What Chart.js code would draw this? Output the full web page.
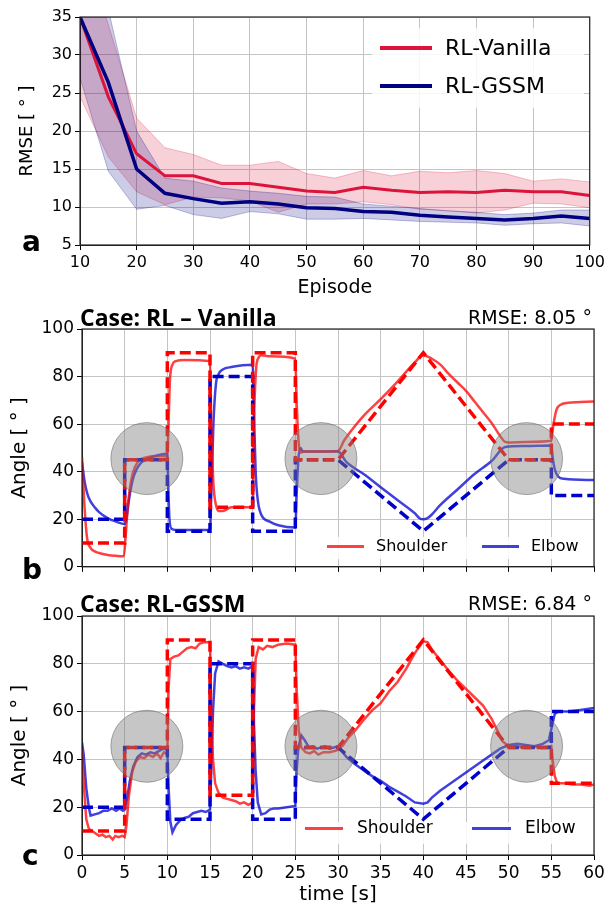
<!DOCTYPE html>
<html>
<head>
<meta charset="utf-8">
<script src="https://cdn.jsdelivr.net/npm/chart.js@4.4.1/dist/chart.umd.min.js"></script>
<style>
  body { margin: 0; background: #fff; }
  #wrap { position: relative; width: 608px; height: 909px; overflow: hidden; background: #fff; font-family: "DejaVu Sans", sans-serif; }
  canvas { position: absolute; left: 0; }
  .t { position: absolute; white-space: nowrap; line-height: 1; color: #000; }
  .letter { font-weight: bold; font-size: 28px; left: 22px; }
  .case { font-family: "Liberation Sans Narrow", "Open Sans", sans-serif; font-weight: bold; font-size: 23px; left: 80px; }
  .rmse { font-size: 19px; right: 16px; }
  .box { position: absolute; background: rgba(255,255,255,0.85); }
  .sw { position: absolute; height: 3px; }
</style>
</head>
<body>
<div id="wrap">
  <canvas id="chartA" width="608" height="300" style="top:0"></canvas>
  <canvas id="chartB" width="608" height="290" style="top:290px"></canvas>
  <canvas id="chartC" width="608" height="329" style="top:580px"></canvas>

  <!-- legend a -->
  <div class="box" style="left:372px;top:28px;width:212px;height:80px"></div>
  <div class="sw" style="left:380px;top:46px;width:52px;height:4px;background:#dc143c"></div>
  <div class="t" style="left:445px;top:37px;font-size:22px">RL-Vanilla</div>
  <div class="sw" style="left:380px;top:84px;width:52px;height:4px;background:#000080"></div>
  <div class="t" style="left:445px;top:75px;font-size:22px">RL-GSSM</div>
  <div class="t letter" style="top:228px">a</div>

  <!-- panel b texts -->
  <div class="t case" style="top:306px">Case: RL – Vanilla</div>
  <div class="t rmse" style="top:308px">RMSE: 8.05 °</div>
  <div class="box" style="left:318px;top:537px;width:272px;height:22px"></div>
  <div class="sw" style="left:327px;top:545px;width:37px;background:rgba(255,0,0,0.75)"></div>
  <div class="t" style="left:376px;top:538px;font-size:16px">Shoulder</div>
  <div class="sw" style="left:482px;top:545px;width:37px;background:rgba(0,0,210,0.75)"></div>
  <div class="t" style="left:531px;top:538px;font-size:16px">Elbow</div>
  <div class="t letter" style="top:556px">b</div>

  <!-- panel c texts -->
  <div class="t case" style="top:592px">Case: RL-GSSM</div>
  <div class="t rmse" style="top:594px">RMSE: 6.84 °</div>
  <div class="box" style="left:298px;top:822px;width:292px;height:22px"></div>
  <div class="sw" style="left:305px;top:827px;width:38px;background:rgba(255,0,0,0.75)"></div>
  <div class="t" style="left:357px;top:819px;font-size:17px">Shoulder</div>
  <div class="sw" style="left:472px;top:827px;width:39px;background:rgba(0,0,210,0.75)"></div>
  <div class="t" style="left:525px;top:819px;font-size:17px">Elbow</div>
  <div class="t letter" style="top:842px">c</div>
</div>

<script>
// ---------- panel a : RMSE over episodes ----------
const episodes   = [10, 15, 20, 25, 30, 35, 40, 45, 50, 55, 60, 65, 70, 75, 80, 85, 90, 95, 100];
const vanMean    = [35, 24.5, 17, 14.1, 14.1, 13.1, 13.1, 12.6, 12.1, 11.9, 12.6, 12.2, 11.9, 12.0, 11.9, 12.2, 12.0, 12.0, 11.5];
const vanHigh    = [45, 34, 21.7, 17.8, 16.9, 15.5, 15.5, 16.0, 14.4, 13.8, 14.8, 14.1, 14.7, 14.5, 14.8, 14.4, 13.4, 13.7, 13.3];
const vanLow     = [24.5, 16.6, 12.0, 10.3, 11.3, 11.2, 10.8, 9.3, 10.4, 10.4, 10.7, 10.3, 9.7, 9.5, 9.2, 9.6, 10.5, 10.4, 9.9];
const gssmMean   = [35, 26.4, 15, 11.8, 11.1, 10.5, 10.7, 10.4, 9.9, 9.8, 9.4, 9.3, 8.9, 8.7, 8.5, 8.3, 8.5, 8.8, 8.5];
const gssmHigh   = [45, 36, 20, 13.8, 13.4, 12.5, 12.1, 11.8, 11.4, 11.3, 10.4, 10.1, 9.8, 9.5, 9.3, 9.0, 9.2, 9.6, 9.6];
const gssmLow    = [27, 14.7, 9.7, 10.2, 9.0, 8.5, 9.4, 9.1, 8.4, 8.4, 8.5, 8.3, 8.1, 8.0, 7.9, 7.6, 7.8, 7.9, 7.5];

// ---------- panels b/c : reference trajectories ----------
const refT              = [0, 5, 5, 10, 10, 15, 15, 20, 20, 25, 25, 30, 40, 50, 55, 55, 60];
const vanRefShoulder    = [10, 10, 45, 45, 90, 90, 25, 25, 90, 90, 45, 45, 90, 45, 45, 60, 60];
const vanRefElbow       = [20, 20, 45, 45, 15, 15, 80, 80, 15, 15, 45, 45, 15, 45, 45, 30, 30];
const gssmRefShoulder   = [10, 10, 45, 45, 90, 90, 25, 25, 90, 90, 45, 45, 90, 45, 45, 30, 30];
const gssmRefElbow      = [20, 20, 45, 45, 15, 15, 80, 80, 15, 15, 45, 45, 15, 45, 45, 60, 60];

// ---------- panel b : RL-Vanilla measured ----------
const vanShoulderT = [0, 0.3, 0.6, 1, 1.5, 2, 3, 4, 4.9, 5.1, 5.4, 5.8, 6.2, 6.8, 7.5, 8.5, 10, 10.1, 10.3, 10.6, 11, 12, 15,
  15.15, 15.4, 15.7, 16, 16.5, 17.5, 20, 20.15, 20.4, 20.7, 21, 22, 25, 25.15, 25.4, 25.7, 26, 28, 30,
  30.7, 31.5, 33, 35, 37, 39, 40, 41, 42, 43, 44, 45, 46, 47, 48, 49, 49.6, 50, 52, 55, 55.1, 55.3, 55.6, 56, 57, 60];
const vanShoulderY = [46, 25, 12, 8, 6.5, 5.8, 5, 4.6, 4.4, 12, 27, 37, 42, 45, 46, 46.5, 46.5, 55, 78, 85, 86.5, 87, 86.5,
  60, 35, 26, 23.5, 23.5, 25, 25, 60, 83, 88, 89, 88.5, 87.5, 70, 52, 48, 48.5, 48.5, 48.7,
  53, 57, 63.5, 70.5, 78, 86, 89, 87.5, 85, 81, 77.5, 74, 69.5, 65, 60.5, 55, 52.5, 52.3, 52.5, 53, 56, 61, 66, 68, 69, 69.5];
const vanElbowT = [0, 0.3, 0.6, 1, 1.5, 2, 3, 4, 5, 5.2, 5.5, 5.9, 6.4, 7, 8, 9, 10, 10.1, 10.25, 10.5, 11, 15,
  15.15, 15.4, 15.7, 16, 16.5, 17.5, 20, 20.15, 20.35, 20.6, 21, 22, 23, 25, 25.15, 25.35, 25.6, 25.9, 28, 30,
  31, 33, 35, 37, 39, 39.6, 40, 40.5, 41, 42, 44, 46, 48, 49.6, 52, 55, 55.15, 55.4, 55.8, 56.5, 60];
const vanElbowY = [44, 36, 31, 27.5, 25, 23, 20.5, 19, 18, 20, 28, 36, 41, 44, 46, 47, 47.5, 35, 20, 16, 15.5, 15.5,
  30, 60, 77, 81, 83, 84, 85, 65, 40, 28, 22, 19, 17.5, 16.5, 30, 45, 50, 48.5, 48.5, 48.5,
  44, 39, 33.5, 28, 22.5, 20.3, 20, 20.5, 22, 26, 32.5, 39, 44.5, 50.4, 50.8, 51, 46, 41, 38, 37, 36.5];

// ---------- panel c : RL-GSSM measured ----------
const gssmShoulderT = [0, 0.2, 0.5, 0.8, 1.2, 1.6, 2, 2.4, 2.8, 3.2, 3.6, 3.9, 4.3, 4.7, 5, 5.2, 5.5, 5.9, 6.3, 6.8, 7.3, 7.8, 8.3, 8.8, 9.2, 9.6, 10,
  10.15, 10.35, 10.8, 11.3, 11.8, 12.3, 12.8, 13.3, 13.8, 14.3, 15, 15.15, 15.35, 15.6, 16, 16.5, 17, 17.5, 18, 18.5, 19, 19.5, 20,
  20.15, 20.35, 20.7, 21.2, 21.7, 22.3, 23, 24, 25, 25.15, 25.4, 25.7, 26.2, 26.7, 27.2, 27.7, 28.3, 29, 29.6, 30,
  30.6, 31.2, 32, 33, 34, 35, 36, 37, 38, 39, 40, 40.5, 41, 42, 43, 44, 45, 46, 47, 48, 48.7, 49.3, 50,
  51, 52, 53, 54, 55, 55.15, 55.4, 55.7, 56.5, 57.5, 58.5, 59.5, 60];
const gssmShoulderY = [44, 30, 15, 11, 10, 9, 8, 8.5, 7.5, 8, 6.5, 8, 7.5, 8, 7.5, 12, 25, 35, 39, 41, 40.5, 42, 41, 42.5, 40.5, 43, 42,
  70, 82, 83, 83.5, 85, 86.5, 87, 86.5, 88.5, 89, 89, 60, 40, 30, 26, 24, 23.5, 23, 22.5, 21.5, 22, 21, 22,
  60, 82, 87, 86, 87.5, 87, 88, 88.5, 88, 70, 52, 45, 43, 42.5, 43.5, 42, 43, 43, 43.5, 44,
  46, 49, 52, 56.5, 60.5, 63.5, 68.5, 72.5, 78, 84.5, 89.5, 89, 86, 81.5, 77, 73, 69.5, 66, 62.5, 57, 52, 47.5, 45.5,
  45.5, 45, 45.5, 45, 45.5, 40, 33, 30, 30, 29.5, 29.5, 29, 29.5];
const gssmElbowT = [0, 0.2, 0.5, 0.8, 1, 1.5, 2, 2.5, 3, 3.5, 4, 4.4, 4.8, 5, 5.3, 5.6, 6, 6.5, 7, 7.5, 8, 8.5, 9, 9.5, 10,
  10.15, 10.35, 10.6, 11, 11.5, 12, 12.5, 13, 13.5, 14, 14.5, 15, 15.15, 15.35, 15.6, 16, 16.5, 17, 17.5, 18, 18.5, 19, 19.5, 20,
  20.15, 20.35, 20.6, 21, 21.5, 22, 22.5, 23, 24, 25, 25.15, 25.35, 25.7, 26.1, 26.6, 27, 27.5, 28, 28.5, 29, 29.5, 30,
  31, 32, 33, 34, 35, 36, 37, 38, 39, 40, 40.5, 41, 42, 43, 44, 45, 46, 47, 48, 49, 50,
  51, 52, 53, 54, 54.7, 55.15, 55.4, 55.8, 57, 58, 59, 60];
const gssmElbowY = [47, 42, 28, 20, 16.5, 17, 17.5, 18.5, 18.5, 19.5, 18.5, 19.5, 18.5, 19, 24, 31, 37, 41, 42.5, 42, 43, 42.5, 43.5, 44.5, 44,
  28, 14, 9.5, 12.5, 14.5, 15.5, 16, 17.5, 18, 18.5, 18, 19, 35, 60, 76, 81, 80, 79, 78.5, 79, 78, 78.5, 78, 79,
  55, 35, 22, 17, 17.5, 19, 19.5, 19.5, 20, 20.5, 35, 45, 50, 48, 45, 45.5, 44.5, 45, 45.5, 44.5, 45, 45.5,
  41, 38, 35.5, 33, 31, 28.5, 26.5, 24.5, 22, 21.5, 22, 24, 27, 29.5, 32, 34.5, 37, 39.5, 42, 44.5, 46,
  46.5, 46, 45.5, 46.5, 48, 55, 59, 60, 60, 60.5, 61, 61.5];

// grey highlight circles (time, angle)
const circleT = [7.6, 28, 52.1];
const circleY = [45.5, 45.5, 45.5];

const pts = (xs, ys) => xs.map((x, i) => ({ x: x, y: ys[i] }));

const tickFont = { family: 'DejaVu Sans', size: 17 };
const gridCfg = { color: '#c4c4c4', tickColor: '#000', tickLength: 5, lineWidth: 1 };

// full black frame around the plot area
const framePlugin = {
  id: 'frame',
  afterDatasetsDraw(chart) {
    const { ctx, chartArea: a } = chart;
    ctx.save();
    ctx.strokeStyle = '#222';
    ctx.lineWidth = 1.2;
    ctx.strokeRect(a.left, a.top, a.right - a.left, a.bottom - a.top);
    ctx.restore();
  }
};

// panel a
new Chart(document.getElementById('chartA'), {
  type: 'line',
  data: {
    datasets: [
      { data: pts(episodes, vanHigh), fill: '+1', backgroundColor: 'rgba(220,20,60,0.2)', borderColor: 'rgba(220,20,60,0.25)', borderWidth: 1, pointRadius: 0, order: 3 },
      { data: pts(episodes, vanLow), fill: false, borderColor: 'rgba(220,20,60,0.25)', borderWidth: 1, pointRadius: 0, order: 3 },
      { data: pts(episodes, gssmHigh), fill: '+1', backgroundColor: 'rgba(0,0,128,0.2)', borderColor: 'rgba(0,0,128,0.25)', borderWidth: 1, pointRadius: 0, order: 2 },
      { data: pts(episodes, gssmLow), fill: false, borderColor: 'rgba(0,0,128,0.25)', borderWidth: 1, pointRadius: 0, order: 2 },
      { label: 'RL-Vanilla', data: pts(episodes, vanMean), borderColor: '#dc143c', borderWidth: 3, pointRadius: 0, fill: false, order: 1 },
      { label: 'RL-GSSM', data: pts(episodes, gssmMean), borderColor: '#000080', borderWidth: 3.5, pointRadius: 0, fill: false, order: 0 }
    ]
  },
  options: {
    responsive: false,
    animation: false,
    layout: { autoPadding: false, padding: { top: 17, right: 18, left: 0, bottom: 0 } },
    plugins: { legend: { display: false }, tooltip: { enabled: false } },
    scales: {
      x: {
        type: 'linear', min: 10, max: 100,
        ticks: { stepSize: 10, font: { family: 'DejaVu Sans', size: 16 }, color: '#000', padding: 3, maxRotation: 0 },
        grid: gridCfg,
        border: { color: '#222' },
        title: { display: true, text: 'Episode', font: { family: 'DejaVu Sans', size: 19 }, color: '#000', padding: { top: 0, bottom: 1 } },
        afterFit: s => { s.height = 55; }
      },
      y: {
        min: 5, max: 35,
        ticks: { stepSize: 5, font: { family: 'DejaVu Sans', size: 16 }, color: '#000', padding: 3 },
        grid: gridCfg,
        border: { color: '#222' },
        title: { display: true, text: 'RMSE [ ° ]', font: { family: 'DejaVu Sans', size: 18 }, color: '#000', padding: { top: 17, bottom: 0 } },
        afterFit: s => { s.width = 80; }
      }
    }
  },
  plugins: [framePlugin]
});

function angleChart(id, refS, refE, sT, sY, eT, eY, padTop, xHeight, showLabels) {
  const smooth = id === 'chartB' ? 'monotone' : 'default';
  return new Chart(document.getElementById(id), {
    type: 'line',
    data: {
      datasets: [
        { data: pts(circleT, circleY), showLine: false, pointRadius: 36, pointHoverRadius: 36,
          pointBackgroundColor: 'rgba(128,128,128,0.45)', pointBorderColor: 'rgba(100,100,100,0.55)', pointBorderWidth: 1, order: 0 },
        { data: pts(refT, refS), borderColor: '#ff0000', borderWidth: 3.5, borderDash: [11, 5], pointRadius: 0, fill: false, order: 1 },
        { data: pts(refT, refE), borderColor: '#0000cc', borderWidth: 3.5, borderDash: [11, 5], pointRadius: 0, fill: false, order: 2 },
        { label: 'Shoulder', data: pts(sT, sY), borderColor: 'rgba(255,0,0,0.75)', borderWidth: 2.5, pointRadius: 0, fill: false, order: 3,
          cubicInterpolationMode: smooth },
        { label: 'Elbow', data: pts(eT, eY), borderColor: 'rgba(0,0,210,0.75)', borderWidth: 2.5, pointRadius: 0, fill: false, order: 4,
          cubicInterpolationMode: smooth }
      ]
    },
    options: {
      responsive: false,
      animation: false,
      layout: { autoPadding: false, padding: { top: padTop, right: 14, left: 0, bottom: 0 } },
      plugins: { legend: { display: false }, tooltip: { enabled: false } },
      scales: {
        x: {
          type: 'linear', min: 0, max: 60,
          ticks: { stepSize: 5, font: tickFont, color: '#000', padding: 3, maxRotation: 0,
                   callback: v => showLabels ? v : '' },
          grid: gridCfg,
          border: { color: '#222' },
          title: { display: showLabels, text: 'time [s]', font: { family: 'DejaVu Sans', size: 20 }, color: '#000', padding: { top: 0, bottom: 2 } },
          afterFit: s => { s.height = xHeight; }
        },
        y: {
          min: 0, max: 100,
          ticks: { stepSize: 20, font: tickFont, color: '#000', padding: 3 },
          grid: gridCfg,
          border: { color: '#222' },
          title: { display: true, text: 'Angle [ ° ]', font: { family: 'DejaVu Sans', size: 20 }, color: '#000', padding: { top: 8, bottom: 0 } },
          afterFit: s => { s.width = 82; }
        }
      }
    },
    plugins: [framePlugin]
  });
}

angleChart('chartB', vanRefShoulder, vanRefElbow, vanShoulderT, vanShoulderY, vanElbowT, vanElbowY, 39, 11, false);
angleChart('chartC', gssmRefShoulder, gssmRefElbow, gssmShoulderT, gssmShoulderY, gssmElbowT, gssmElbowY, 36, 54, true);
</script>
</body>
</html>
